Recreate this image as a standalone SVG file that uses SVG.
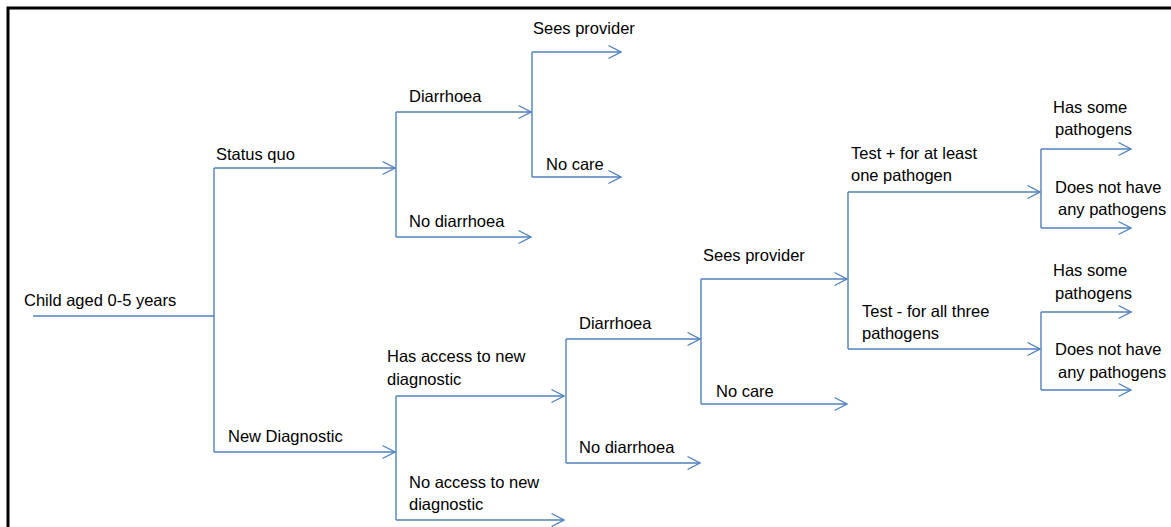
<svg xmlns="http://www.w3.org/2000/svg" width="1171" height="527" viewBox="0 0 1171 527">
<style>
.c{fill:none;stroke:#4F81BD;stroke-width:1.4}
.a{marker-end:url(#arr)}
text{font-family:"Liberation Sans",Arial,sans-serif;font-size:16.5px;fill:#000}
</style>
<defs>
<marker id="arr" markerUnits="userSpaceOnUse" markerWidth="16" markerHeight="16" refX="13" refY="7" orient="auto" overflow="visible">
<path d="M0.5,0.5 L13,7 L0.5,13.5" fill="none" stroke="#4F81BD" stroke-width="1.4"/>
</marker>
</defs>
<rect width="1171" height="527" fill="#fff"/>
<path d="M8,527 V8 H1171" fill="none" stroke="#000" stroke-width="3"/>
<g id="connectors">
<path class="c" d="M33,316 H214"/>
<path class="c" d="M214,168 V452"/>
<path class="c a" d="M214,168 H395"/>
<path class="c a" d="M214,452 H395"/>
<path class="c" d="M396,112 V237"/>
<path class="c a" d="M396,112 H531"/>
<path class="c a" d="M396,237 H531"/>
<path class="c" d="M532,52 V177"/>
<path class="c a" d="M532,52 H621"/>
<path class="c a" d="M532,177 H621"/>
<path class="c" d="M396,396 V520"/>
<path class="c a" d="M396,396 H564"/>
<path class="c a" d="M396,520 H564"/>
<path class="c" d="M566,339 V463"/>
<path class="c a" d="M566,339 H700"/>
<path class="c a" d="M566,463 H700"/>
<path class="c" d="M701,279 V404"/>
<path class="c a" d="M701,279 H847"/>
<path class="c a" d="M701,404 H847"/>
<path class="c" d="M848,192 V349"/>
<path class="c a" d="M848,192 H1040"/>
<path class="c a" d="M848,349 H1040"/>
<path class="c" d="M1041,149 V228"/>
<path class="c a" d="M1041,149 H1131"/>
<path class="c a" d="M1041,228 H1131"/>
<path class="c" d="M1041,312 V390"/>
<path class="c a" d="M1041,312 H1131"/>
<path class="c a" d="M1041,390 H1131"/>
</g>
<g id="n-child"><text x="24" y="306">Child aged 0-5 years</text></g>
<g id="n-statusquo"><text x="216" y="160">Status quo</text></g>
<g id="n-newdiag"><text x="228" y="442">New Diagnostic</text></g>
<g id="n-sq-diarrhoea"><text x="409" y="102">Diarrhoea</text></g>
<g id="n-sq-nodiarrhoea"><text x="409" y="227">No diarrhoea</text></g>
<g id="n-sq-sees"><text x="533" y="34">Sees provider</text></g>
<g id="n-sq-nocare"><text x="546" y="170">No care</text></g>
<g id="n-access"><text x="387" y="362">Has access to new</text><text x="387" y="385">diagnostic</text></g>
<g id="n-noaccess"><text x="409" y="488">No access to new</text><text x="409" y="510">diagnostic</text></g>
<g id="n-nd-diarrhoea"><text x="579" y="329">Diarrhoea</text></g>
<g id="n-nd-nodiarrhoea"><text x="579" y="453">No diarrhoea</text></g>
<g id="n-nd-sees"><text x="703" y="261">Sees provider</text></g>
<g id="n-nd-nocare"><text x="716" y="397">No care</text></g>
<g id="n-testpos"><text x="851" y="159">Test + for at least</text><text x="851" y="181">one pathogen</text></g>
<g id="n-testneg"><text x="862" y="317">Test - for all three</text><text x="862" y="339">pathogens</text></g>
<g id="n-pos-has"><text x="1053" y="113">Has some</text><text x="1055" y="135">pathogens</text></g>
<g id="n-pos-not"><text x="1055" y="193">Does not have</text><text x="1058" y="215">any pathogens</text></g>
<g id="n-neg-has"><text x="1053" y="276">Has some</text><text x="1055" y="299">pathogens</text></g>
<g id="n-neg-not"><text x="1055" y="355">Does not have</text><text x="1058" y="378">any pathogens</text></g>
</svg>
